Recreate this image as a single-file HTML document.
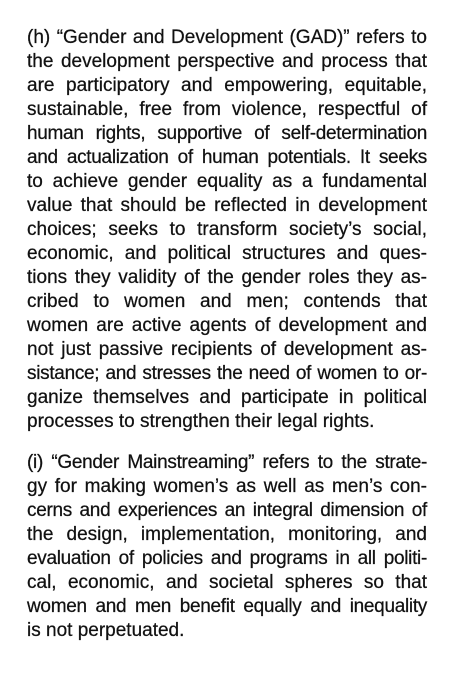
<!DOCTYPE html>
<html><head><meta charset="utf-8"><style>
html,body{margin:0;padding:0;background:#fff;}
body{width:470px;height:686px;overflow:hidden;font-family:"Liberation Sans",sans-serif;font-size:19px;color:#111;-webkit-text-stroke:0.25px #111;}
.p{position:absolute;left:27px;width:400px;}
.l{height:24px;line-height:24px;white-space:nowrap;text-align:justify;text-align-last:justify;}
.l.e{text-align-last:left;}
.t{letter-spacing:-0.3px;}
</style></head><body>
<div class="p" style="top:26px">
<div class="l">(h) “Gender and Development (GAD)” refers to</div>
<div class="l">the development perspective and process that</div>
<div class="l">are participatory and empowering, equitable,</div>
<div class="l">sustainable, free from violence, respectful of</div>
<div class="l t">human rights, supportive of self-determination</div>
<div class="l t">and actualization of human potentials. It seeks</div>
<div class="l">to achieve gender equality as a fundamental</div>
<div class="l">value that should be reflected in development</div>
<div class="l">choices; seeks to transform society’s social,</div>
<div class="l">economic, and political structures and ques-</div>
<div class="l">tions they validity of the gender roles they as-</div>
<div class="l">cribed to women and men; contends that</div>
<div class="l">women are active agents of development and</div>
<div class="l">not just passive recipients of development as-</div>
<div class="l t">sistance; and stresses the need of women to or-</div>
<div class="l">ganize themselves and participate in political</div>
<div class="l e">processes to strengthen their legal rights.</div>
</div>
<div class="p" style="top:451px">
<div class="l t">(i) “Gender Mainstreaming” refers to the strate-</div>
<div class="l">gy for making women’s as well as men’s con-</div>
<div class="l t">cerns and experiences an integral dimension of</div>
<div class="l">the design, implementation, monitoring, and</div>
<div class="l t">evaluation of policies and programs in all politi-</div>
<div class="l">cal, economic, and societal spheres so that</div>
<div class="l t">women and men benefit equally and inequality</div>
<div class="l e">is not perpetuated.</div>
</div>
</body></html>
